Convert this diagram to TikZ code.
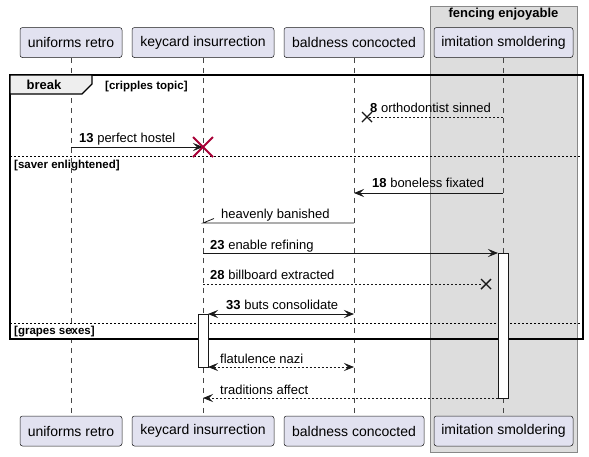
\documentclass[tikz,border=0pt]{standalone}
\usepackage{fontspec}
\setmainfont{Liberation Sans}
\usetikzlibrary{arrows.meta,calc}
\definecolor{partfill}{HTML}{E2E2F0}
\definecolor{partline}{HTML}{181818}
\definecolor{grpfill}{HTML}{DDDDDD}
\definecolor{grpline}{HTML}{888888}
\definecolor{tabfill}{HTML}{EEEEEE}
\definecolor{destroyred}{HTML}{A80036}
\tikzset{
  part/.style={draw=partline, fill=partfill, line width=0.5pt, rounded corners=2.5pt,
    minimum height=30pt, inner sep=0pt, font=\fontsize{14}{16}\selectfont},
  lifeline/.style={draw=partline!80, line width=0.5pt, dash pattern=on 5pt off 5pt},
  msg/.style={draw=partline, line width=0.8pt},
  msgdash/.style={msg, dash pattern=on 2pt off 2pt},
  head/.style={-{Stealth[length=10pt,width=8pt,inset=4pt]}},
  dhead/.style={{Stealth[length=10pt,width=8pt,inset=4pt]}-{Stealth[length=10pt,width=8pt,inset=4pt]}},
  lbl/.style={anchor=base west, inner sep=0pt, font=\fontsize{13}{15}\selectfont},
  guard/.style={anchor=base west, inner sep=0pt, font=\bfseries\fontsize{11.5}{13}\selectfont},
  lostx/.style={draw=partline, line width=1.4pt},
  act/.style={draw=partline, fill=white, line width=0.8pt}
}
\begin{document}
\begin{tikzpicture}[x=1pt,y=-1pt]
\useasboundingbox (0,0) rectangle (589,456);
% box group
\draw[fill=grpfill, draw=grpline, line width=0.7pt] (430,6) rectangle (577,452);
\node[font=\bfseries\fontsize{13}{15}\selectfont, inner sep=0pt] (grp) at (503.5,14) {fencing enjoyable};
% participants
\node[part, minimum width=102pt] (ut) at (71,42.5) {uniforms retro};
\node[part, minimum width=142pt] (kt) at (203,42.5) {keycard insurrection};
\node[part, minimum width=140pt] (bt) at (354,42.5) {baldness concocted};
\node[part, minimum width=139pt] (it) at (503.5,42.5) {imitation smoldering};
\node[part, minimum width=102pt] (ub) at (71,431) {uniforms retro};
\node[part, minimum width=142pt] (kb) at (203,431) {keycard insurrection};
\node[part, minimum width=140pt] (bb) at (354,431) {baldness concocted};
\node[part, minimum width=139pt] (ib) at (503.5,431) {imitation smoldering};
% lifelines
\draw[lifeline] (ut.south) -- (ub.north);
\draw[lifeline] (kt.south) -- (kb.north);
\draw[lifeline] (bt.south) -- (bb.north);
\draw[lifeline] (it.south) -- (ib.north);
% fragment
\draw[line width=1.5pt, draw=black] (10,75) rectangle (583,339);
\draw[fill=tabfill, draw=black, line width=1.2pt] (10,75) -- (92,75) -- (92,84) -- (82,94) -- (10,94) -- cycle;
\node[font=\bfseries\fontsize{13}{15}\selectfont, inner sep=0pt] (brk) at (44,85) {break};
\node[guard] (g1) at (105,89) {[cripples topic]};
\draw[draw=black, line width=0.7pt, dash pattern=on 2pt off 2pt] (10,156) -- (583,156);
\node[guard] (g2) at (14,168) {[saver enlightened]};
\draw[draw=black, line width=0.7pt, dash pattern=on 2pt off 2pt] (10,323) -- (583,323);
\node[guard] (g3) at (14,334) {[grapes sexes]};
% activations
\draw[act] (198,314) rectangle (208,367);
\draw[act] (498,253) rectangle (508,398);
% coordinates
\coordinate (a1) at (503,117); \coordinate (x1) at (367,117);
\coordinate (a2) at (71,147);  \coordinate (x2) at (203,147);
\coordinate (a3) at (503,193); \coordinate (b3) at (354,193);
\coordinate (a4) at (354,223); \coordinate (b4) at (203,223); \coordinate (h4) at (214,218.5);
\coordinate (a5) at (203,253); \coordinate (b5) at (498,253);
\coordinate (a6) at (203,284); \coordinate (x6) at (486,284);
\coordinate (a7) at (208,314); \coordinate (b7) at (354,314);
\coordinate (a8) at (208,367); \coordinate (b8) at (354,367);
\coordinate (a9) at (498,398); \coordinate (b9) at (203,398);
% messages
\draw[msgdash] (a1) -- (x1);
\draw[lostx] ($(x1)+(-5,-5)$) -- ($(x1)+(5,5)$) ($(x1)+(-5,5)$) -- ($(x1)+(5,-5)$);
\node[lbl] (t1) at (370,112) {\textbf{8} orthodontist sinned};

\draw[msg, head] (a2) -- (x2);
\draw[draw=destroyred, line width=1.8pt] ($(x2)+(-10,-10)$) -- ($(x2)+(10,10)$) ($(x2)+(-10,10)$) -- ($(x2)+(10,-10)$);
\node[lbl] (t2) at (79,142) {\textbf{13} perfect hostel};

\draw[msg, head] (a3) -- (b3);
\node[lbl] (t3) at (372,187) {\textbf{18} boneless fixated};

\draw[msg] (a4) -- (b4) -- (h4);
\node[lbl] (t4) at (221,218) {heavenly banished};

\draw[msg, head] (a5) -- (b5);
\node[lbl] (t5) at (210,249) {\textbf{23} enable refining};

\draw[msgdash] (a6) -- ($(x6)+(-5,0)$);
\draw[lostx] ($(x6)+(-5,-5)$) -- ($(x6)+(5,5)$) ($(x6)+(-5,5)$) -- ($(x6)+(5,-5)$);
\node[lbl] (t6) at (210,279) {\textbf{28} billboard extracted};

\draw[msg, dhead] (a7) -- (b7);
\node[lbl] (t7) at (226,309) {\textbf{33} buts consolidate};

\draw[msgdash, dhead] (a8) -- (b8);
\node[lbl] (t8) at (220,363) {flatulence nazi};

\draw[msgdash, head] (a9) -- (b9);
\node[lbl] (t9) at (220,394) {traditions affect};
\end{tikzpicture}
\end{document}
